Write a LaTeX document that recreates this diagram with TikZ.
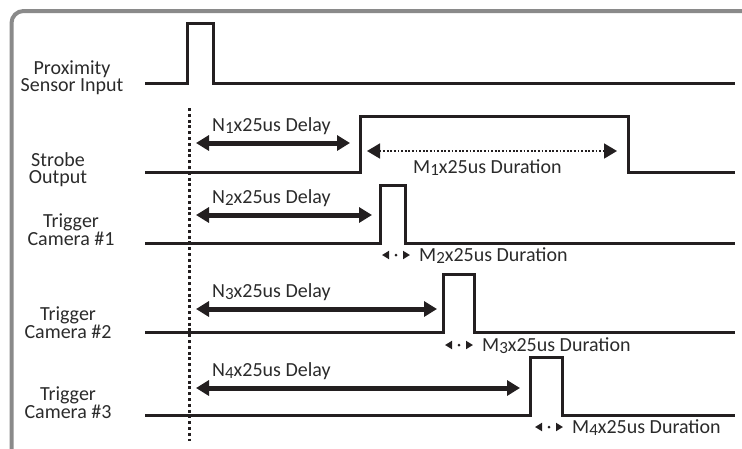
\documentclass[tikz,border=0pt]{standalone}
\usepackage{fontspec}
\setmainfont{Carlito}
\usepackage{xcolor}
\usepackage{tikz}
\usetikzlibrary{arrows.meta,positioning,calc}
\definecolor{TimingInk}{HTML}{231F20}
\definecolor{TimingFrame}{HTML}{8A8A8A}
\definecolor{TimingText}{HTML}{2B2B2B}
\newcommand{\subdig}[1]{\raisebox{-2.5pt}{\fontsize{17}{17}\selectfont #1}}
% one signal trace: name, low y, rise x, fall x, high y
\newcommand{\signalrow}[5]{%
  \coordinate (#1start) at (145,#2);
  \coordinate (#1rise) at (#3,#2);
  \coordinate (#1fall) at (#4,#2);
  \coordinate (#1end) at (735,#2);
  \draw[signal] (#1start) -- (#1rise) -- (#3,#5) -- (#4,#5) -- (#1fall) -- (#1end);%
}
% delay arrow from the trigger line: name, y, right x, index
\newcommand{\delayarrow}[4]{%
  \coordinate (#1from) at (196,#2);
  \coordinate (#1to) at (#3,#2);
  \draw[delay] (#1from) -- (#1to);
  \node[tag,anchor=base west] (#1text) at (212,#2-12) {N\subdig{#4}x25us Delay};%
}
% short pulse width mark: name, y, left x, right x, index
\newcommand{\widthmark}[5]{%
  \coordinate (#1left) at (#3,#2);
  \coordinate (#1right) at (#4,#2);
  \draw[smalltip] (#1left) -- (#1right);
  \fill[TimingInk] ($(#1left)!0.5!(#1right)$) circle (1.5pt);
  \node[tag,anchor=base west] (#1text) at (#4+9,#2+6) {M\subdig{#5}x25us Duration};%
}

\begin{document}
\begin{tikzpicture}[x=1pt,y=-1pt,>=Latex,
    signal/.style={TimingInk,line width=3pt,line join=miter},
    delay/.style={TimingInk,line width=5pt,
      {Triangle[width=15pt,length=13pt]}-{Triangle[width=15pt,length=13pt]}},
    smalltip/.style={TimingInk,line width=2pt,dash pattern=on 0pt off 60pt,line cap=butt,
      {Triangle[width=8pt,length=7pt]}-{Triangle[width=8pt,length=7pt]}},
    tag/.style={text=TimingText,inner sep=0pt,font=\fontsize{20}{16.5}\selectfont},
    side/.style={tag,align=center,anchor=base}]
  \useasboundingbox (0,0) rectangle (742,448);
  \begin{scope}
    \clip (0,0) rectangle (742,448);
    \draw[TimingFrame,line width=4pt,rounded corners=12pt] (11.5,11) rectangle (790,500);
  \end{scope}

  % traces
  \signalrow{prox}{83}{187}{213}{23}
  \signalrow{strobe}{172}{360}{628}{116}
  \signalrow{camone}{243}{380}{405}{185}
  \signalrow{camtwo}{332}{443}{474}{274}
  \signalrow{camthree}{415}{530}{562}{357}

  % left labels (base = last line)
  \node[side] (proxlabel) at (72,91) {Proximity\\Sensor Input};
  \node[side] (strobelabel) at (58,183) {Strobe\\Output};
  \node[side] (camonelabel) at (71,245) {Trigger\\Camera \#1};
  \node[side] (camtwolabel) at (68,338) {Trigger\\Camera \#2};
  \node[side] (camthreelabel) at (68,418) {Trigger\\Camera \#3};

  % trigger reference
  \coordinate (trigtop) at (189,108);
  \coordinate (trigbot) at (189,441);
  \draw[TimingInk,line width=3pt,dash pattern=on 3pt off 2.8pt] (trigtop) -- (trigbot);

  % delays
  \delayarrow{none}{143}{350}{1}
  \delayarrow{ntwo}{215}{372}{2}
  \delayarrow{nthree}{309}{437}{3}
  \delayarrow{nfour}{388}{520}{4}

  % strobe duration
  \coordinate (monefrom) at (367,151);
  \coordinate (moneto) at (617,151);
  \draw[TimingInk,line width=1.8pt,dash pattern=on 1.8pt off 1.8pt,
    {Triangle[width=15pt,length=13pt]}-{Triangle[width=15pt,length=13pt]}] (monefrom) -- (moneto);
  \node[tag,anchor=base west] (monetext) at (413,173) {M\subdig{1}x25us Duration};

  % pulse widths
  \widthmark{mtwo}{255}{382}{410}{2}
  \widthmark{mthree}{345}{445}{473}{3}
  \widthmark{mfour}{427}{535}{563}{4}
\end{tikzpicture}
\end{document}
